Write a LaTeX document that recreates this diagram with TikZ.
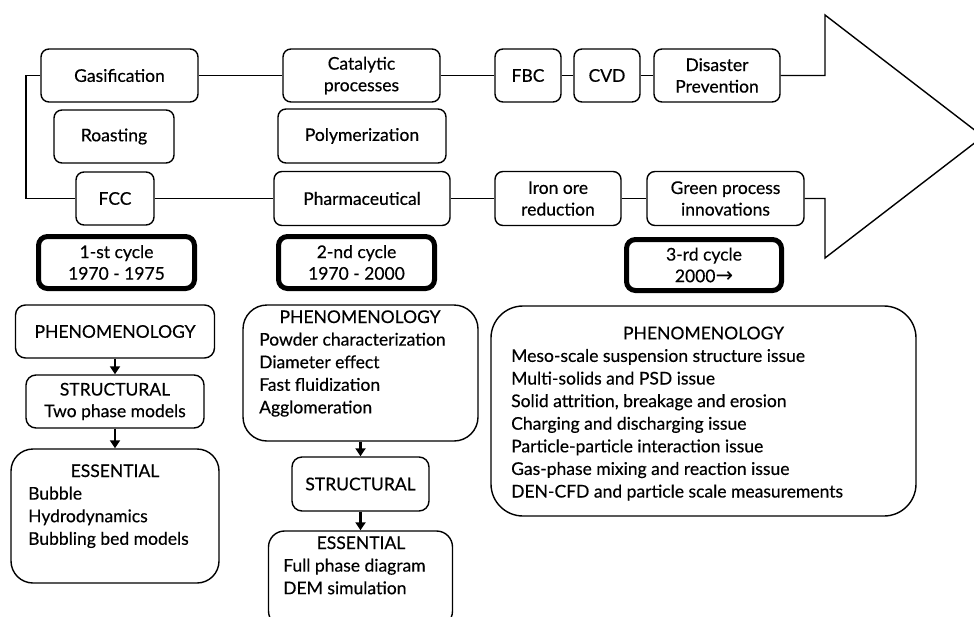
\documentclass[tikz,border=0pt]{standalone}
\usepackage{fontspec}
\setmainfont{Lato}[FakeBold=0.4]
\newfontfamily\symfont{DejaVu Sans}
\usetikzlibrary{arrows.meta}

% left-aligned stack of lines whose anchor is the first baseline
\newcommand{\txtlines}[1]{\begin{tabular}[t]{@{}l@{}}#1\end{tabular}}

\begin{document}
\begin{tikzpicture}[x=1pt,y=-1pt,
  every node/.style={font=\fontsize{17.5}{22.6}\selectfont, text=black},
  procbox/.style={draw, line width=1.4pt, rounded corners=8pt, align=center, inner sep=0pt},
  cyclebox/.style={draw, line width=5pt, rounded corners=9pt, align=center, inner sep=0pt,
                   minimum width=156pt, minimum height=52pt},
  levelbox/.style={draw, line width=1.4pt, align=center, inner sep=0pt},
  link/.style={line width=1.4pt},
  flow/.style={line width=2.6pt, -{Triangle[length=8pt,width=10pt]}},
  bigarrow/.style={line width=1.4pt, line join=miter},
  title/.style={anchor=base, inner sep=0pt},
  items/.style={anchor=base west, inner sep=0pt},
]
\useasboundingbox (0,0) rectangle (974,616);
\clip (0,0) rectangle (974,616);

% ---------- application rows ----------
\node[procbox, minimum width=157pt, minimum height=53pt] (gas)    at (119.5,75.5) {Gasification};
\node[procbox, minimum width=120pt, minimum height=53pt] (roast)  at (114,136.5)  {Roasting};
\node[procbox, minimum width=78pt,  minimum height=53pt] (fcc)    at (115,198.5)  {FCC};
\node[procbox, minimum width=157pt, minimum height=53pt] (cat)    at (361.5,75.5) {Catalytic\\[-1pt]processes};
\node[procbox, minimum width=168pt, minimum height=54pt] (poly)   at (362,136)    {Polymerization};
\node[procbox, minimum width=176pt, minimum height=54pt] (pharma) at (362,198.5)  {Pharmaceutical};
\node[procbox, minimum width=66pt,  minimum height=53pt] (fbc)    at (528,75.5)   {FBC};
\node[procbox, minimum width=66pt,  minimum height=53pt] (cvd)    at (607,75.5)   {CVD};
\node[procbox, minimum width=126pt, minimum height=53pt] (dis)    at (717,75.5)   {Disaster\\[-1pt]Prevention};
\node[procbox, minimum width=126pt, minimum height=54pt] (iron)   at (558,198.5)  {Iron ore\\[-1pt]reduction};
\node[procbox, minimum width=157pt, minimum height=54pt] (green)  at (725.5,198.5){Green process\\[-1pt]innovations};

% ---------- cycle labels ----------
\node[cyclebox] (cyc1) at (116.5,262.5) {1-st cycle\\[-1pt]1970 - 1975};
\node[cyclebox] (cyc2) at (356.5,262.5) {2-nd cycle\\[-1pt]1970 - 2000};
\node[cyclebox, minimum width=155pt, minimum height=51pt] (cyc3) at (704,265) {3-rd cycle\\[-1pt]2000{\symfont\fontsize{21}{20}\selectfont →}};

% ---------- timeline connectors ----------
\coordinate (lx) at (26,0);
\draw[link] (gas.west) -- (gas.west -| lx) |- (fcc.west);
\draw[link] (gas.east) -- (cat.west);
\draw[link] (cat.east) -- (fbc.west);
\draw[link] (fbc.east) -- (cvd.west);
\draw[link] (cvd.east) -- (dis.west);
\draw[link] (fcc.east) -- (pharma.west);
\draw[link] (pharma.east) -- (iron.west);
\draw[link] (iron.east) -- (green.west);

% ---------- large block arrow fed by both rows ----------
\coordinate (a1) at (825,75.5);
\coordinate (a2) at (825,15);
\coordinate (tip) at (983,136.5);
\coordinate (a3) at (825,258);
\coordinate (a4) at (825,198.5);
\draw[bigarrow] (dis.east) -- (a1) -- (a2) -- (tip) -- (a3) -- (a4) -- (green.east);

% ---------- first cycle ----------
\node[levelbox, rounded corners=10pt, minimum width=199pt, minimum height=53pt] (phen1) at (115,331.5) {PHENOMENOLOGY};
\node[levelbox, rounded corners=10pt, minimum width=178pt, minimum height=53pt] (str1)  at (115,401.5) {STRUCTURAL\\[-1pt]Two phase models};
\node[levelbox, rounded corners=22pt, minimum width=208pt, minimum height=134pt] (ess1) at (115,516) {};
\node[title] (ess1t) at (115,477) {ESSENTIAL};
\node[items] (ess1l) at (28,499.6) {\txtlines{Bubble\\Hydrodynamics\\Bubbling bed models}};
\draw[flow] (phen1.south) -- (str1.north);
\draw[flow] (str1.south) -- (ess1.north);

% ---------- second cycle ----------
\node[levelbox, rounded corners=24pt, minimum width=235pt, minimum height=136pt] (phen2) at (360.5,373) {};
\node[title] (phen2t) at (360,323) {PHENOMENOLOGY};
\node[items] (phen2l) at (259,345.6) {\txtlines{Powder characterization\\Diameter effect\\Fast fluidization\\Agglomeration}};
\node[levelbox, rounded corners=10pt, minimum width=137pt, minimum height=54pt] (str2) at (360.5,484) {STRUCTURAL};
\node[levelbox, rounded corners=16pt, minimum width=184pt, minimum height=96pt] (ess2) at (360.5,579) {};
\node[title] (ess2t) at (361,549) {ESSENTIAL};
\node[items] (ess2l) at (283,571.6) {\txtlines{Full phase diagram\\DEM simulation}};
\draw[flow] (phen2.south) -- (str2.north);
\draw[flow] (str2.south) -- (ess2.north);

% ---------- third cycle ----------
\node[levelbox, rounded corners=32pt, minimum width=425pt, minimum height=210pt] (phen3) at (703.5,411) {};
\node[title] (phen3t) at (703.5,339.3) {PHENOMENOLOGY};
\node[items] (phen3l) at (511,361.9) {\txtlines{Meso-scale suspension structure issue\\
  Multi-solids and PSD issue\\
  Solid attrition, breakage and erosion\\
  Charging and discharging issue\\
  Particle-particle interaction issue\\
  Gas-phase mixing and reaction issue\\
  DEN-CFD and particle scale measurements}};
\end{tikzpicture}
\end{document}
